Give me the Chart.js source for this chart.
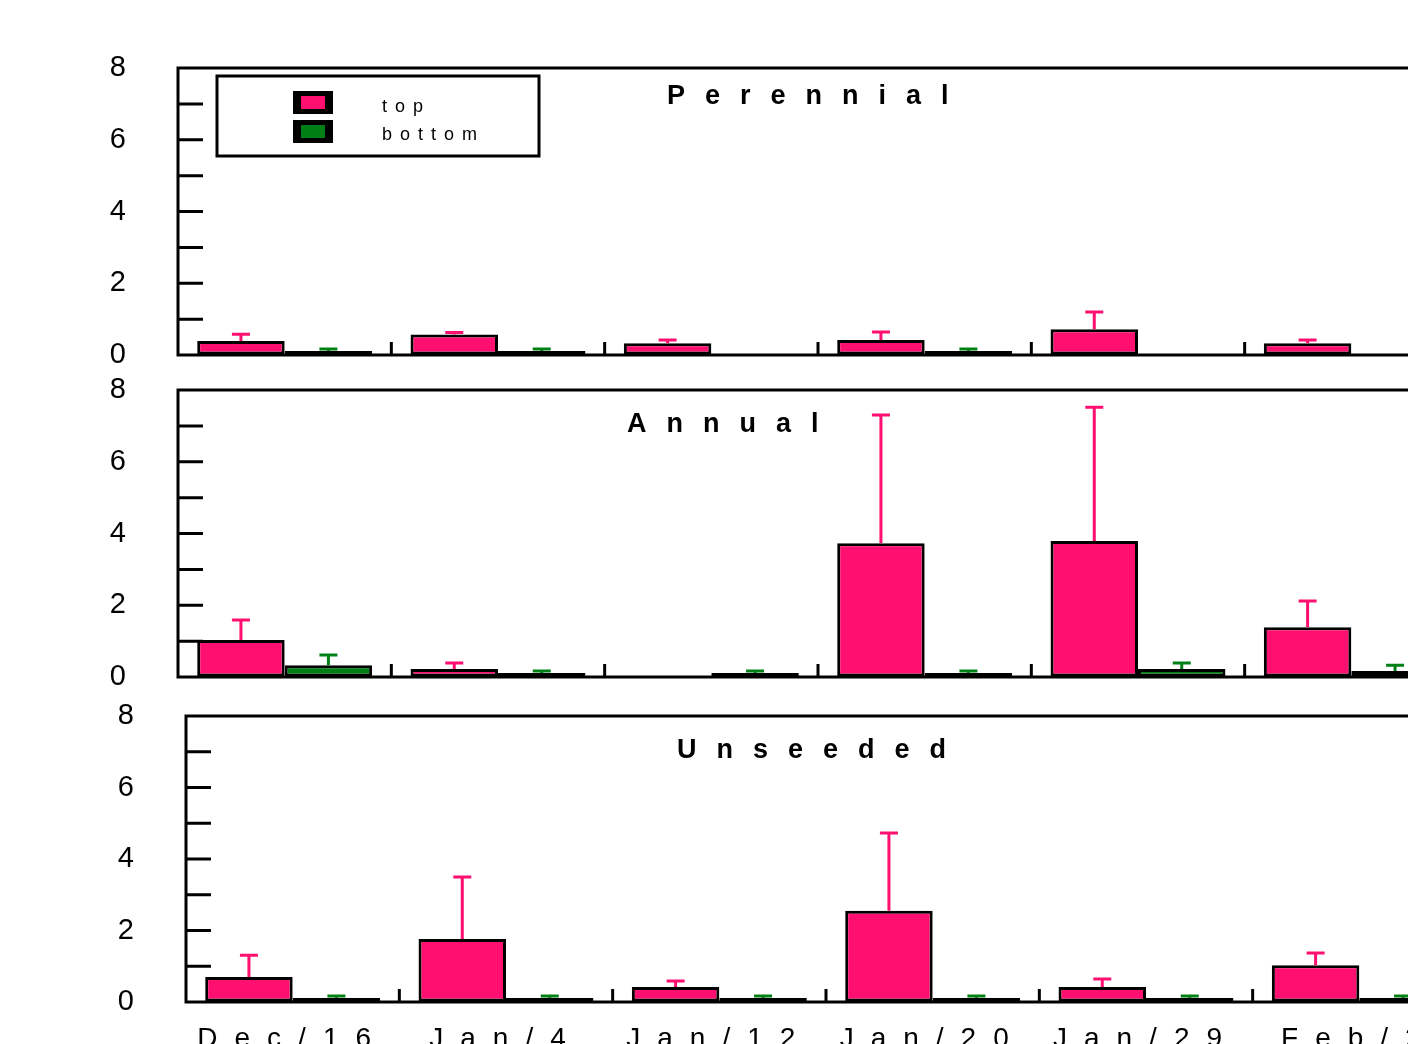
<!DOCTYPE html>
<html>
<head>
<meta charset="utf-8">
<script src="https://cdn.jsdelivr.net/npm/chart.js@4.4.1/dist/chart.umd.min.js"></script>
<style>
  html, body { margin: 0; padding: 0; background: #fff; }
  body { width: 1408px; height: 1044px; overflow: hidden; position: relative; }
  canvas { position: absolute; left: 0; }
</style>
</head>
<body>
<canvas id="c1" width="1500" height="400" style="top:0px"></canvas>
<canvas id="c2" width="1500" height="380" style="top:340px"></canvas>
<canvas id="c3" width="1500" height="400" style="top:680px"></canvas>
<script>
// dates sampled
var categories = ['Dec/16', 'Jan/4', 'Jan/12', 'Jan/20', 'Jan/29', 'Feb/2'];
var yTicks = [0, 1, 2, 3, 4, 5, 6, 7, 8];
var seriesNames = ['top', 'bottom'];

// Perennial
var perennialTop = [0.39, 0.57, 0.33, 0.42, 0.72, 0.33];
var perennialTopErr = [0.58, 0.58, 0.42, 0.64, 1.20, 0.42];
var perennialBottom = [0.05, 0.04, null, 0.04, null, null];
var perennialBottomErr = [0.12, 0.06, null, 0.06, null, null];

// Annual
var annualTop = [1.03, 0.22, null, 3.73, 3.79, 1.39];
var annualTopErr = [1.59, 0.39, null, 7.30, 7.52, 2.12];
var annualBottom = [0.33, 0.10, 0.03, 0.10, 0.22, 0.17];
var annualBottomErr = [0.61, 0.11, 0.04, 0.11, 0.39, 0.33];

// Unseeded
var unseededTop = [0.70, 1.76, 0.42, 2.55, 0.42, 1.03];
var unseededTopErr = [1.31, 3.50, 0.59, 4.73, 0.64, 1.37];
var unseededBottom = [0.04, 0.04, 0.01, 0.02, 0.02, 0.02];
var unseededBottomErr = [0.09, 0.09, 0.03, 0.03, 0.03, 0.03];

var PINK = '#ff1070';
var GREEN = '#008014';
var FONT = "'Liberation Sans', Arial, sans-serif";

const panelPlugin = {
  id: 'panel',
  afterDatasetsDraw(chart, args, opts) {
    const ctx = chart.ctx;
    const area = chart.chartArea;
    const xs = chart.scales.x, ys = chart.scales.y;
    ctx.save();

    // error bars (upward only)
    opts.errs.forEach(function (err, d) {
      const meta = chart.getDatasetMeta(d);
      ctx.strokeStyle = d === 0 ? PINK : GREEN;
      ctx.lineWidth = 3;
      meta.data.forEach(function (el, i) {
        if (err[i] == null || chart.data.datasets[d].data[i] == null) return;
        const ye = Math.min(ys.getPixelForValue(err[i]), el.y - 2);
        ctx.beginPath();
        ctx.moveTo(el.x, el.y);
        ctx.lineTo(el.x, ye);
        ctx.moveTo(el.x - 9, ye);
        ctx.lineTo(el.x + 9, ye);
        ctx.stroke();
      });
    });

    // frame
    ctx.strokeStyle = '#000';
    ctx.lineWidth = 3;
    ctx.strokeRect(area.left, area.top, area.right - area.left, area.bottom - area.top);

    // inner y ticks
    ctx.beginPath();
    yTicks.forEach(function (v) {
      if (v === 0 || v === 8) return;
      const y = ys.getPixelForValue(v);
      ctx.moveTo(area.left, y);
      ctx.lineTo(area.left + 25, y);
    });
    // x ticks between categories
    for (let i = 0; i < categories.length - 1; i++) {
      const x = (xs.getPixelForValue(i) + xs.getPixelForValue(i + 1)) / 2;
      ctx.moveTo(x, area.bottom);
      ctx.lineTo(x, area.bottom - 13);
    }
    ctx.stroke();

    // panel title
    ctx.fillStyle = '#000';
    ctx.font = 'bold 27px ' + FONT;
    ctx.letterSpacing = '20px';
    ctx.textAlign = 'left';
    ctx.textBaseline = 'alphabetic';
    ctx.fillText(opts.title, opts.titleX, area.top + opts.titleDy);

    // legend
    if (opts.legend) {
      const lx = area.left + 39, ly = area.top + 8;
      ctx.lineWidth = 3;
      ctx.strokeRect(lx, ly, 322, 80);
      [PINK, GREEN].forEach(function (c, k) {
        const sy = ly + 15 + k * 29;
        ctx.fillStyle = '#000';
        ctx.fillRect(lx + 76, sy, 40, 23);
        ctx.fillStyle = c;
        ctx.fillRect(lx + 84, sy + 5, 24, 13);
      });
      ctx.fillStyle = '#000';
      ctx.font = '18px ' + FONT;
      ctx.letterSpacing = '8px';
      ctx.fillText(seriesNames[0], lx + 165, ly + 36);
      ctx.fillText(seriesNames[1], lx + 165, ly + 64);
    }

    // category labels
    if (opts.xLabels) {
      ctx.font = '28px ' + FONT;
      ctx.letterSpacing = '17px';
      ctx.textAlign = 'center';
      categories.forEach(function (c, i) {
        ctx.fillText(c, xs.getPixelForValue(i), area.bottom + 45);
      });
    }
    ctx.restore();
  }
};

function makePanel(id, top, bottom, axisLeft, pad, opts) {
  const canvas = document.getElementById(id);
  new Chart(canvas, {
    type: 'bar',
    data: {
      labels: categories,
      datasets: [{
        label: seriesNames[0],
        data: top,
        backgroundColor: PINK,
        borderColor: '#000',
        borderWidth: 3,
        borderSkipped: false
      }, {
        label: seriesNames[1],
        data: bottom,
        backgroundColor: GREEN,
        borderColor: '#000',
        borderWidth: 3,
        borderSkipped: false,
        minBarLength: 4
      }]
    },
    options: {
      responsive: false,
      animation: false,
      devicePixelRatio: 1,
      categoryPercentage: 0.82,
      barPercentage: 1.0,
      layout: { padding: pad },
      scales: {
        x: { display: false, offset: true },
        y: {
          min: 0, max: 8,
          afterFit: function (s) { s.width = axisLeft; },
          // transparent tick marks push the labels away from the axis
          grid: { display: true, drawOnChartArea: false, drawTicks: true, tickLength: 52, color: 'rgba(0,0,0,0)' },
          border: { display: false },
          ticks: {
            stepSize: 1,
            padding: 0,
            color: '#000',
            font: { family: FONT, size: 29 },
            callback: function (v) { return v % 2 === 0 ? String(v) : ''; }
          }
        }
      },
      plugins: {
        legend: { display: false },
        tooltip: { enabled: false },
        panel: opts
      }
    },
    plugins: [panelPlugin]
  });
}

window.onload = function () {
  makePanel('c1', perennialTop, perennialBottom, 178,
    { left: 0, right: 42, top: 68, bottom: 45 },
    { title: 'Perennial', titleX: 667, titleDy: 36, errs: [perennialTopErr, perennialBottomErr], legend: true });
  makePanel('c2', annualTop, annualBottom, 178,
    { left: 0, right: 42, top: 50, bottom: 43 },
    { title: 'Annual', titleX: 627, titleDy: 42, errs: [annualTopErr, annualBottomErr] });
  makePanel('c3', unseededTop, unseededBottom, 186,
    { left: 0, right: 34, top: 36, bottom: 78 },
    { title: 'Unseeded', titleX: 677, titleDy: 42, errs: [unseededTopErr, unseededBottomErr], xLabels: true });
};
</script>
</body>
</html>
